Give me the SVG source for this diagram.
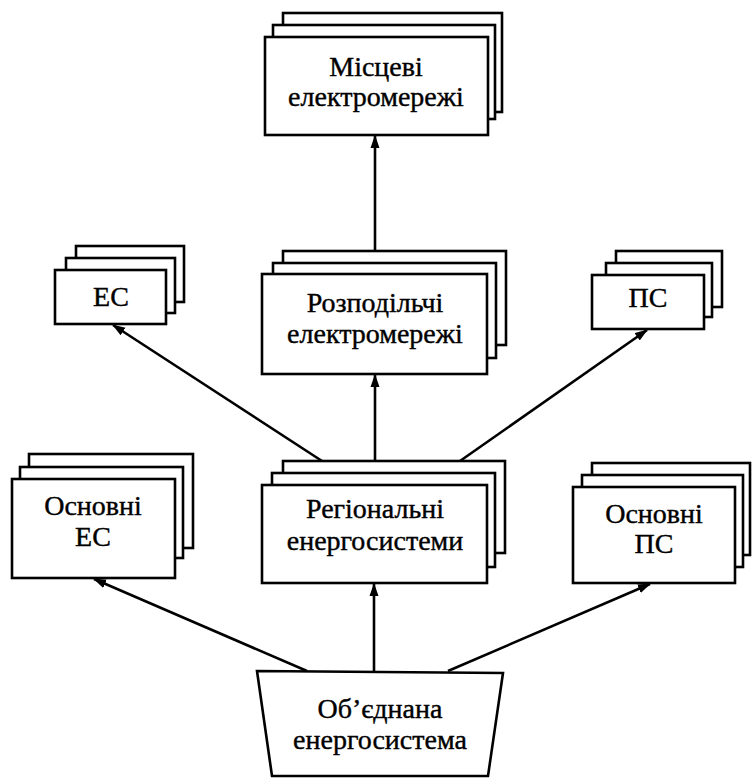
<svg xmlns="http://www.w3.org/2000/svg" width="753" height="778" viewBox="0 0 753 778">
<style>
  .box { fill: #ffffff; stroke: #000000; stroke-width: 2.6; }
  .lbl { font-family: 'Liberation Serif', 'Tinos', 'DejaVu Serif', serif; font-size: 28px; fill: #000000; stroke: #000000; stroke-width: 0.4; text-anchor: middle; }
  .conn { stroke: #000000; stroke-width: 2.6; fill: none; marker-end: url(#arrow); }
</style>
<defs>
  <marker id="arrow" markerUnits="userSpaceOnUse" markerWidth="13" markerHeight="10" viewBox="0 0 13 10" refX="12" refY="5" orient="auto">
    <path d="M0,0.5 L13,5 L0,9.5 z" fill="#000000"/>
  </marker>
</defs>
<rect width="753" height="778" fill="#ffffff"/>

<g id="mistsevi">
  <rect class="box" x="283" y="13" width="219" height="99"/>
  <rect class="box" x="273" y="25" width="222" height="94"/>
  <rect class="box" x="265" y="37" width="223" height="98"/>
  <text class="lbl" x="376" y="76">Місцеві</text>
  <text class="lbl" x="376" y="106">електромережі</text>
</g>

<g id="es">
  <rect class="box" x="76" y="246" width="108" height="56"/>
  <rect class="box" x="66" y="258" width="109" height="55"/>
  <rect class="box" x="55" y="270" width="111" height="54"/>
  <text class="lbl" x="111" y="306">ЕС</text>
</g>

<g id="rozpodilchi">
  <rect class="box" x="283" y="251" width="223" height="94"/>
  <rect class="box" x="273" y="263" width="223" height="95"/>
  <rect class="box" x="262" y="274" width="225" height="100"/>
  <text class="lbl" x="375" y="312">Розподільчі</text>
  <text class="lbl" x="375" y="343">електромережі</text>
</g>

<g id="ps">
  <rect class="box" x="616" y="251" width="106" height="56"/>
  <rect class="box" x="606" y="263" width="106" height="54"/>
  <rect class="box" x="592" y="275" width="112" height="54"/>
  <text class="lbl" x="648" y="307">ПС</text>
</g>

<g id="osnovni-es">
  <rect class="box" x="29" y="454" width="164" height="94"/>
  <rect class="box" x="20" y="467" width="163" height="91"/>
  <rect class="box" x="12" y="479" width="163" height="99"/>
  <text class="lbl" x="93" y="515">Основні</text>
  <text class="lbl" x="93" y="546">ЕС</text>
</g>

<g id="rehionalni">
  <rect class="box" x="283" y="461" width="222" height="92"/>
  <rect class="box" x="272" y="473" width="223" height="94"/>
  <rect class="box" x="262" y="485" width="225" height="98"/>
  <text class="lbl" x="375" y="518">Регіональні</text>
  <text class="lbl" x="375" y="550">енергосистеми</text>
</g>

<g id="osnovni-ps">
  <rect class="box" x="592" y="463" width="158" height="92"/>
  <rect class="box" x="582" y="475" width="161" height="92"/>
  <rect class="box" x="573" y="487" width="162" height="96"/>
  <text class="lbl" x="654" y="523">Основні</text>
  <text class="lbl" x="654" y="553">ПС</text>
</g>

<g id="obiednana">
  <path class="box" d="M257,671 L503,673 L488,776 L272,776 Z"/>
  <text class="lbl" x="380" y="718">Об’єднана</text>
  <text class="lbl" x="380" y="749">енергосистема</text>
</g>

<g id="connectors">
  <line class="conn" x1="375" y1="251" x2="375" y2="136"/>
  <line class="conn" x1="375" y1="461" x2="375" y2="375"/>
  <line class="conn" x1="322" y1="461" x2="113" y2="325"/>
  <line class="conn" x1="460" y1="461" x2="647" y2="330"/>
  <line class="conn" x1="374" y1="672" x2="374" y2="584"/>
  <line class="conn" x1="307" y1="671" x2="94" y2="579"/>
  <line class="conn" x1="448" y1="671" x2="650" y2="584"/>
</g>
</svg>
